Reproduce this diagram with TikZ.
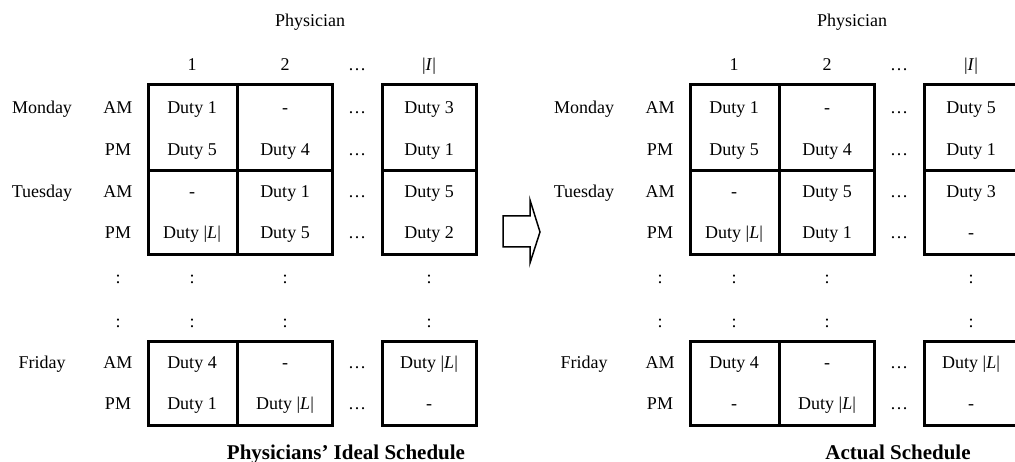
\documentclass[tikz,border=0pt]{standalone}
\usepackage{fontspec}
\setmainfont{Liberation Serif}
\newcommand{\dutyL}{Duty |\textit{L}|}

\begin{document}
\begin{tikzpicture}[x=1pt,y=-1pt,
    every node/.style={font=\fontsize{18}{21}\selectfont,inner sep=1pt,
      text height=14pt,text depth=2pt},
    grid/.style={line width=3pt},
    title/.style={font=\fontsize{21}{25}\selectfont\bfseries,anchor=base,
      text height=,text depth=}]
    \useasboundingbox (0,0) rectangle (1015,462);
    % ideal schedule (left), actual schedule (right)
    \foreach \s/\dx in {L/0,R/542} {
    \begin{scope}[xshift=\dx]
    \node (phys\s) at (310,21) {Physician};
    \foreach \x/\t [count=\i] in {192/1,285/2,357/\ldots,429/|\textit{I}|}
    \node (head\s\i) at (\x,65) {\t};
    \foreach \y/\d [count=\i] in {108/Monday,192/Tuesday,363/Friday}
    \node (day\s\i) at (42,\y) {\d};
    \foreach \y/\h [count=\i] in {108/AM,150/PM,192/AM,233/PM,363/AM,403/PM} {
    \node (half\s\i) at (118,\y) {\h};
    \node (dots\s\i) at (357,\y) {\ldots};
    }
    \foreach \y [count=\i] in {278,322}
    \foreach \x [count=\j] in {118,192,285,429}
    \node (vdots\s\i\j) at (\x,\y) {:};
    \draw[grid] (148,85) rectangle (332,255);
    \draw[grid] (148,171) -- (332,171);
    \draw[grid] (237,85) -- (237,255);
    \draw[grid] (382,85) rectangle (476,255);
    \draw[grid] (382,171) -- (476,171);
    \draw[grid] (148,342) rectangle (332,425);
    \draw[grid] (237,342) -- (237,425);
    \draw[grid] (382,342) rectangle (476,425);
    \end{scope}
    }
    \foreach \y/\a/\b/\c [count=\r] in {108/Duty 1/-/Duty 3,150/Duty 5/Duty 4/Duty 1,
      192/-/Duty 1/Duty 5,233/\dutyL/Duty 5/Duty 2,363/Duty 4/-/\dutyL,403/Duty 1/\dutyL/-} {
    \node (aL\r) at (192,\y) {\a};
    \node (bL\r) at (285,\y) {\b};
    \node (cL\r) at (429,\y) {\c};
    }
    \foreach \y/\a/\b/\c [count=\r] in {108/Duty 1/-/Duty 5,150/Duty 5/Duty 4/Duty 1,
      192/-/Duty 5/Duty 3,233/\dutyL/Duty 1/-,363/Duty 4/-/\dutyL,403/-/\dutyL/-} {
    \node (aR\r) at (734,\y) {\a};
    \node (bR\r) at (827,\y) {\b};
    \node (cR\r) at (971,\y) {\c};
    }
    % block arrow
    \draw[line width=1.5pt] (503,216) -- (530,216) -- (530,200) -- (540,232)
    -- (530,263) -- (530,247) -- (503,247) -- cycle;
    \node[title] (ideal) at (346,459) {Physicians’ Ideal Schedule};
    \node[title] (actual) at (898,459) {Actual Schedule};
  \end{tikzpicture}
\end{document}
